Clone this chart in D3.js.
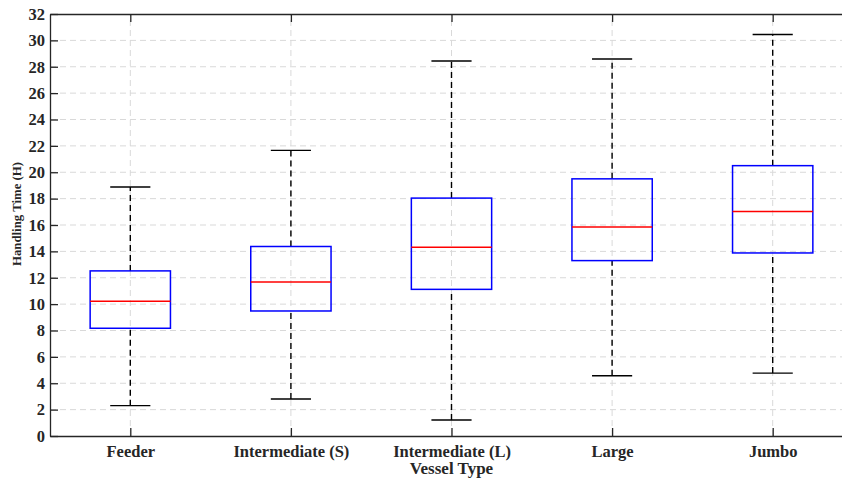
<!DOCTYPE html>
<html><head><meta charset="utf-8">
<script src="https://cdn.jsdelivr.net/npm/d3@7"></script>
<style>body{margin:0;background:#fff;overflow:hidden}</style>
</head><body>
<script>
const categories = ["Feeder","Intermediate (S)","Intermediate (L)","Large","Jumbo"];
const lowerWhisker = [2.30, 2.81, 1.21, 4.57, 4.77];
const q1 = [8.17, 9.48, 11.12, 13.30, 13.88];
const median = [10.22, 11.68, 14.32, 15.84, 17.03];
const q3 = [12.52, 14.37, 18.04, 19.50, 20.50];
const upperWhisker = [18.88, 21.66, 28.44, 28.59, 30.45];
const yTicks = d3.range(0, 33, 2);

const W = 842, H = 481;
const svg = d3.select("body").append("svg").attr("width", W).attr("height", H);
const x = d3.scaleLinear().domain([0.5, 5.5]).range([50, 853]);
const y = d3.scaleLinear().domain([0, 32]).range([436, 14]);
const font = "'Liberation Serif','Times New Roman',serif";

const grid = svg.append("g").attr("stroke", "#d9d9d9").attr("stroke-width", 1).attr("stroke-dasharray", "6,4");
grid.selectAll("line.h").data(yTicks.filter(d => d > 0 && d < 32)).enter().append("line")
  .attr("x1", x(0.5)).attr("x2", x(5.5)).attr("y1", d => y(d)).attr("y2", d => y(d));
grid.selectAll("line.v").data(categories).enter().append("line")
  .attr("x1", (d,i) => x(i+1)).attr("x2", (d,i) => x(i+1)).attr("y1", y(0)).attr("y2", y(32));

const data = categories.map((c,i) => ({c, i, lo: lowerWhisker[i], q1: q1[i], med: median[i], q3: q3[i], hi: upperWhisker[i]}));
const bw = x(1.25) - x(1), cw = x(1.125) - x(1);
const g = svg.append("g").selectAll("g").data(data).enter().append("g");
g.append("line").attr("x1", d => x(d.i+1)).attr("x2", d => x(d.i+1)).attr("y1", d => y(d.q3)).attr("y2", d => y(d.hi))
  .attr("stroke", "#000").attr("stroke-width", 1.4).attr("stroke-dasharray", "6,4");
g.append("line").attr("x1", d => x(d.i+1)).attr("x2", d => x(d.i+1)).attr("y1", d => y(d.lo)).attr("y2", d => y(d.q1))
  .attr("stroke", "#000").attr("stroke-width", 1.4).attr("stroke-dasharray", "6,4");
g.append("line").attr("x1", d => x(d.i+1)-cw).attr("x2", d => x(d.i+1)+cw).attr("y1", d => y(d.hi)).attr("y2", d => y(d.hi))
  .attr("stroke", "#000").attr("stroke-width", 1.4);
g.append("line").attr("x1", d => x(d.i+1)-cw).attr("x2", d => x(d.i+1)+cw).attr("y1", d => y(d.lo)).attr("y2", d => y(d.lo))
  .attr("stroke", "#000").attr("stroke-width", 1.4);
g.append("rect").attr("x", d => x(d.i+1)-bw).attr("width", 2*bw).attr("y", d => y(d.q3)).attr("height", d => y(d.q1)-y(d.q3))
  .attr("fill", "none").attr("stroke", "#0000ff").attr("stroke-width", 1.5);
g.append("line").attr("x1", d => x(d.i+1)-bw).attr("x2", d => x(d.i+1)+bw).attr("y1", d => y(d.med)).attr("y2", d => y(d.med))
  .attr("stroke", "#ff0000").attr("stroke-width", 1.5);

const yAxis = svg.append("g").attr("transform", `translate(${x(0.5)},0)`)
  .call(d3.axisLeft(y).tickValues(yTicks).tickSizeInner(-8).tickSizeOuter(0).tickPadding(5));
const xAxis = svg.append("g").attr("transform", `translate(0,${y(0)})`)
  .call(d3.axisBottom(x).tickValues([1,2,3,4,5]).tickFormat((d) => categories[d-1]).tickSizeInner(-8).tickSizeOuter(0).tickPadding(6));
const topAxis = svg.append("g").attr("transform", `translate(0,${y(32)})`)
  .call(d3.axisTop(x).tickValues([1,2,3,4,5]).tickFormat("").tickSizeInner(-8).tickSizeOuter(0));
[yAxis, xAxis, topAxis].forEach(a => {
  a.selectAll("path,line").attr("stroke", "#262626").attr("stroke-width", 1.3);
  a.selectAll("text").attr("font-family", font).attr("font-weight", "bold").attr("font-size", 16.5).attr("fill", "#262626");
});
xAxis.selectAll("text").attr("dy", "0.71em").attr("y", 9);

svg.append("text").attr("x", x(3)).attr("y", 474).attr("text-anchor", "middle")
  .attr("font-family", font).attr("font-weight", "bold").attr("font-size", 17).attr("fill", "#262626").text("Vessel Type");
svg.append("text").attr("transform", `translate(20.5,214) rotate(-90)`).attr("text-anchor", "middle")
  .attr("font-family", font).attr("font-weight", "bold").attr("font-size", 12.8).attr("fill", "#262626").text("Handling Time (H)");
</script>
</body></html>
